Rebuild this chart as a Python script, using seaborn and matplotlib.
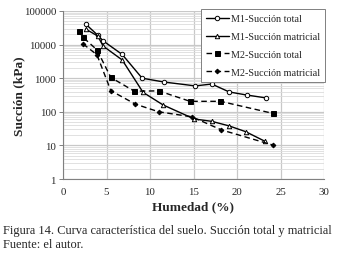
import matplotlib
matplotlib.use("Agg")
import matplotlib.pyplot as plt
import seaborn as sns
import numpy as np
import pandas as pd
from matplotlib.ticker import FixedLocator, FuncFormatter, LogLocator, NullFormatter

# Data (humedad %, succión kPa)
m1_total_x = [2.6, 4.0, 4.6, 6.8, 9.1, 11.6, 15.2, 17.1, 19.1, 21.1, 23.3]
m1_total_y = [41000, 19000, 13000, 5100, 1000, 770, 590, 670, 390, 316, 260]

m1_mat_x = [2.6, 4.0, 4.6, 6.8, 9.2, 11.5, 15.1, 17.1, 19.1, 21.0, 23.2]
m1_mat_y = [29000, 18000, 9100, 3500, 380, 160, 61, 52, 38, 25.6, 13.3]

m2_total_x = [1.8, 2.3, 3.9, 5.5, 8.2, 11.0, 14.6, 18.1, 24.1]
m2_total_y = [26000, 16500, 7000, 1050, 410, 420, 205, 205, 90]

m2_mat_x = [2.3, 3.9, 5.5, 8.3, 11.0, 14.8, 18.2, 24.1]
m2_mat_y = [10500, 5000, 425, 170, 100, 71, 29, 10.3]

labels = ["M1-Succión total", "M1-Succión matricial", "M2-Succión total", "M2-Succión matricial"]
x_ticks = [0, 5, 10, 15, 20, 25, 30]
y_ticks = [1, 10, 100, 1000, 10000, 100000]

sns.set_theme(style="white")
plt.rcParams['font.family'] = ['Liberation Serif', 'DejaVu Serif']

fig = plt.figure(figsize=(3.54, 2.55), dpi=100)
ax = fig.add_axes([63/354, 1 - 180/255, (324-63)/354, (180-12)/255])

series = [
    (m1_total_x, m1_total_y, labels[0], "-", "o", "white", 3.2),
    (m1_mat_x, m1_mat_y, labels[1], "-", "^", "white", 3.2),
    (m2_total_x, m2_total_y, labels[2], (0, (4, 2.5)), "s", "black", 3.6),
    (m2_mat_x, m2_mat_y, labels[3], (0, (4, 2.5)), "D", "black", 2.4),
]
for xs, ys, lab, ls, mk, mfc, ms in series:
    df = pd.DataFrame({"x": xs, "y": ys})
    sns.lineplot(data=df, x="x", y="y", ax=ax, color="black", linestyle=ls,
                 marker=mk, markerfacecolor=mfc, markeredgecolor="black",
                 markersize=ms, markeredgewidth=0.7, linewidth=1.0,
                 label=lab, estimator=None, sort=False, zorder=3)

ax.set_yscale("log")
ax.set_xlim(0, 30)
ax.set_ylim(1, 100000)
ax.xaxis.set_major_locator(FixedLocator(x_ticks))
ax.yaxis.set_major_locator(FixedLocator(y_ticks))
ax.yaxis.set_minor_locator(LogLocator(base=10, subs=np.arange(2, 10)))
ax.yaxis.set_minor_formatter(NullFormatter())
ax.yaxis.set_major_formatter(FuncFormatter(lambda v, p: f"{int(round(v))}"))

ax.grid(True, which="major", axis="both", color="#c8c8c8", linewidth=0.9, zorder=0)
ax.grid(True, which="minor", axis="y", color="#dcdcdc", linewidth=0.6, zorder=0)
ax.set_axisbelow(True)

for s in ["top", "right"]:
    ax.spines[s].set_visible(False)
for s in ["left", "bottom"]:
    ax.spines[s].set_color("#808080")
    ax.spines[s].set_linewidth(0.8)

ax.tick_params(axis="y", which="major", length=3, width=0.7, color="#808080", labelsize=7.8, pad=2, left=True)
ax.tick_params(axis="y", which="minor", length=0)
ax.tick_params(axis="x", which="major", length=0, labelsize=7.8, pad=6)

ax.set_xlabel("Humedad (%)", fontsize=9.5, fontweight="bold", labelpad=3)
ax.set_ylabel("Succión (kPa)", fontsize=9.6, fontweight="bold", labelpad=-1)

leg = ax.legend(loc="upper right", bbox_to_anchor=(1.003, 1.01), fontsize=7.3,
                frameon=True, fancybox=False, edgecolor="#808080", framealpha=1,
                handlelength=2.2, handletextpad=0.2, borderpad=0.5, labelspacing=0.85,
                borderaxespad=0.0)
leg.get_frame().set_linewidth(0.7)

fig.text(3/354, 1 - 231/255, "Figura 14. Curva característica del suelo. Succión total y matricial",
         fontsize=8.9, va="center", ha="left")
fig.text(3/354, 1 - 245/255, "Fuente: el autor.", fontsize=8.9, va="center", ha="left")

fig.savefig("out.png", dpi=100)
